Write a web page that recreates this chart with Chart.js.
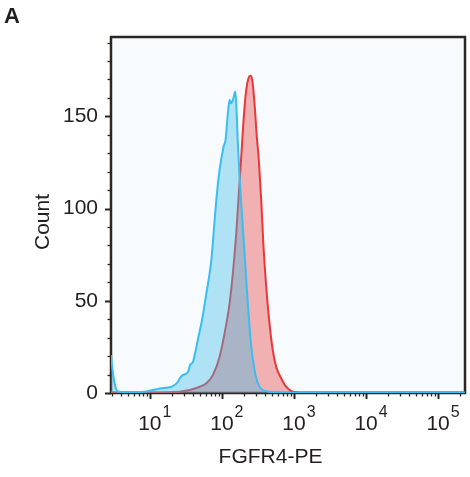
<!DOCTYPE html>
<html><head><meta charset="utf-8">
<script src="https://cdn.jsdelivr.net/npm/chart.js@4"></script>
<style>html,body{margin:0;padding:0;background:#fff}#wrap{width:470px;height:477px;position:relative}</style>
</head><body><div id="wrap"><canvas id="c" width="470" height="477"></canvas></div>
<script>
const panelLabel = 'A';
const xAxisTitle = 'FGFR4-PE';
const yAxisTitle = 'Count';
const xTickExponents = [1, 2, 3, 4, 5];
const yTickLabels = [0, 50, 100, 150];

// Unstained / control (blue)
const blueX = [2.89, 3.05, 3.3, 3.6, 4.5, 6.2, 9.0, 11, 13.7, 20, 24.6, 26, 28.9, 33.9, 36, 39.7, 44.3, 47, 51.9, 60.8, 71.3, 79.3, 85.3, 92.9, 105.5, 112.4, 121, 127.8, 134, 139.2, 146.6, 153.1, 158.1, 166.3, 175.8, 189.1, 206.1, 217.4, 233.8, 255.2, 283.1, 314.7, 369.3, 457, 600, 1000, 5000, 30000, 236000];
const blueCount = [20.5, 12, 4, 0.8, 0.5, 0.5, 0.8, 1.6, 2.5, 3.4, 6.1, 8, 9.8, 11.5, 15, 17, 25, 30, 37.8, 54, 72, 93.9, 108.4, 121, 133.6, 137.3, 151.8, 159, 157, 158, 160.8, 163.5, 157, 135.5, 117.4, 97.5, 75.8, 61.3, 43.2, 25, 12.5, 5.3, 1.6, 0.7, 0.3, 0.2, 0.2, 0.2, 0.2];

// FGFR4-PE stained (red)
const redX = [2.89, 10, 20, 26, 35.7, 49.2, 60.8, 75.1, 92.9, 108.9, 127.8, 141.9, 158.1, 171.7, 185.4, 199.5, 217.4, 233.8, 247.2, 263.3, 283.1, 304.8, 325, 350.8, 377.5, 411.3, 457.1, 507.3, 564.9, 663.2, 778, 960, 1200, 236000];
const redCount = [0.3, 0.3, 0.4, 0.7, 1.6, 3.4, 5.3, 9.8, 19.7, 32.4, 48.7, 65, 86.7, 108.4, 128.2, 148, 164.4, 170.8, 172, 169.8, 157.2, 139, 126.4, 104.7, 79.4, 57.7, 37.8, 23.3, 14.3, 8, 3.4, 0.7, 0.3, 0.3];

const FONT = '"Liberation Sans", Arial, Helvetica, sans-serif';
const TEXT = '#231f20';
const AXIS = '#2b2622';

const decor = {
  id: 'decor',
  beforeDraw(chart) {
    const {ctx, chartArea: a} = chart;
    ctx.save();
    ctx.fillStyle = '#fff';
    ctx.fillRect(0, 0, chart.width, chart.height);
    ctx.fillStyle = 'rgb(248,251,254)';
    ctx.fillRect(a.left, a.top, a.right - a.left, a.bottom - a.top);
    ctx.restore();
  },
  beforeDatasetsDraw(chart) {
    const {ctx, chartArea: a, scales} = chart;
    const xs = scales.x, ys = scales.y;
    ctx.save();
    ctx.strokeStyle = AXIS;
    // y ticks
    for (let v = 0; v <= ys.max; v += 10) {
      const py = Math.round(ys.getPixelForValue(v)) + 0.5;
      const major = v % 50 === 0;
      ctx.lineWidth = major ? 2 : 1.3;
      ctx.beginPath();
      ctx.moveTo(a.left, py);
      ctx.lineTo(a.left - (major ? 6 : 3.5), py);
      ctx.stroke();
    }
    // x ticks
    for (let e = 0; e <= 5; e++) {
      for (let k = 1; k <= 9; k++) {
        const v = k * Math.pow(10, e);
        if (v < xs.min || v > xs.max) continue;
        const px = Math.round(xs.getPixelForValue(v)) + 0.5;
        const major = k === 1;
        ctx.lineWidth = major ? 2 : 1.3;
        ctx.beginPath();
        ctx.moveTo(px, a.bottom);
        ctx.lineTo(px, a.bottom + (major ? 6 : 3.5));
        ctx.stroke();
      }
    }
    // frame
    ctx.lineWidth = 2.5;
    ctx.strokeRect(a.left, a.top, a.right - a.left, a.bottom - a.top);
    ctx.restore();
  },
  afterDraw(chart) {
    const {ctx, scales} = chart;
    const xs = scales.x;
    ctx.save();
    ctx.fillStyle = TEXT;
    // x tick labels 10^n
    xTickExponents.forEach(e => {
      const px = xs.getPixelForValue(Math.pow(10, e));
      ctx.font = '21px ' + FONT;
      ctx.textAlign = 'center';
      ctx.textBaseline = 'alphabetic';
      ctx.fillText('10', px, 429.5);
      const w = ctx.measureText('10').width;
      ctx.font = '16px ' + FONT;
      ctx.textAlign = 'left';
      ctx.fillText(String(e), px + w / 2 + 1, 417);
    });
    // x title
    ctx.font = '21px ' + FONT;
    ctx.textAlign = 'center';
    ctx.fillText(xAxisTitle, 270.5, 463);
    // y title
    ctx.save();
    ctx.translate(48.5, 222);
    ctx.rotate(-Math.PI / 2);
    ctx.fillText(yAxisTitle, 0, 0);
    ctx.restore();
    // panel label
    ctx.font = 'bold 22px ' + FONT;
    ctx.textAlign = 'left';
    ctx.fillText(panelLabel, 4, 23);
    ctx.restore();
  }
};

new Chart(document.getElementById('c'), {
  type: 'line',
  data: {
    datasets: [
      {
        label: 'control',
        data: blueX.map((x, i) => ({x, y: blueCount[i]})),
        borderColor: 'rgb(56,190,240)',
        backgroundColor: 'rgba(59,187,231,0.39)',
        borderWidth: 2,
        fill: 'origin',
        pointRadius: 0,
        tension: 0.3,
        cubicInterpolationMode: 'monotone',
        order: 0
      },
      {
        label: 'FGFR4-PE',
        data: redX.map((x, i) => ({x, y: redCount[i]})),
        borderColor: 'rgb(232,56,58)',
        backgroundColor: 'rgba(230,50,50,0.37)',
        borderWidth: 2,
        fill: 'origin',
        pointRadius: 0,
        cubicInterpolationMode: 'monotone',
        order: 1
      }
    ]
  },
  options: {
    responsive: false,
    animation: false,
    layout: {padding: {top: 37, right: 5, left: 0, bottom: 0}},
    plugins: {legend: {display: false}, tooltip: {enabled: false}},
    scales: {
      x: {
        type: 'logarithmic',
        min: 2.89,
        max: 236000,
        grid: {display: false, drawTicks: false},
        border: {display: false},
        ticks: {display: false},
        afterFit(s) { s.height = 84; }
      },
      y: {
        type: 'linear',
        min: 0,
        max: 193,
        grid: {display: false, drawTicks: false},
        border: {display: false},
        afterBuildTicks(s) { s.ticks = yTickLabels.map(v => ({value: v})); },
        ticks: {
          padding: 13,
          color: TEXT,
          font: {family: FONT, size: 21},
          callback: v => String(v)
        },
        afterFit(s) { s.width = 111; }
      }
    }
  },
  plugins: [decor]
});
</script>
</body></html>
